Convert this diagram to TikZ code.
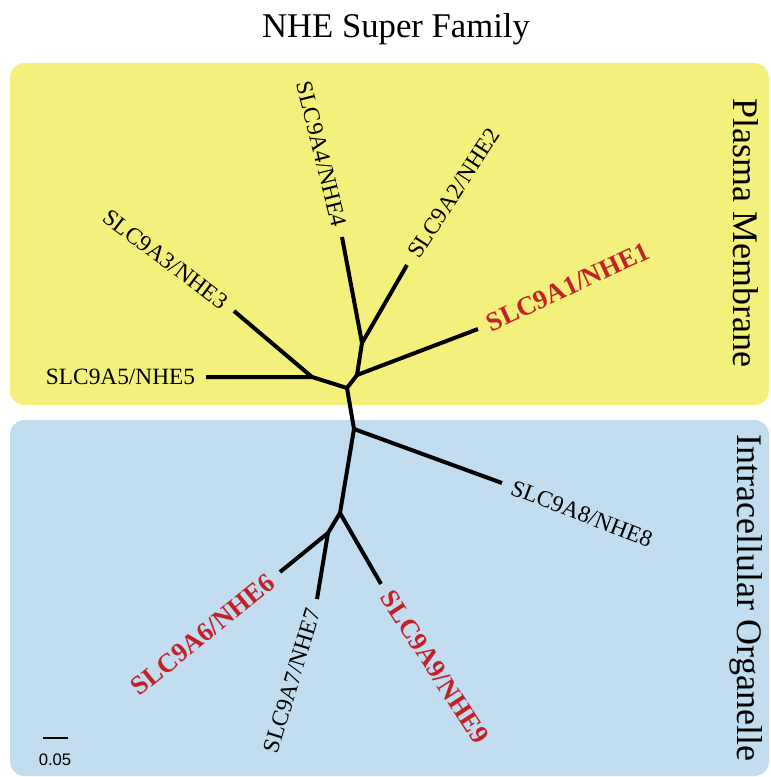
\documentclass[tikz,border=0pt]{standalone}
\usepackage{fontspec}
\setmainfont{Liberation Serif}
\setsansfont{Liberation Sans}
\usetikzlibrary{positioning}
\definecolor{pmyellow}{RGB}{243,241,123}
\definecolor{orgblue}{RGB}{193,221,239}
\definecolor{hlred}{RGB}{196,32,40}

\begin{document}
\begin{tikzpicture}[x=0.75pt,y=-0.75pt,
    branch/.style={line width=3pt},
    gene/.style={font=\fontsize{17.5}{20}\selectfont, inner ysep=2pt, inner xsep=8pt},
    hot/.style={gene, font=\fontsize{20}{23}\selectfont\bfseries, text=hlred},
    side/.style={font=\fontsize{27}{30}\selectfont, rotate=-90}]
  \useasboundingbox (0,0) rectangle (770,777);

  % compartments
  \fill[pmyellow, rounded corners=11pt] (10,63) rectangle (769,405);
  \fill[orgblue, rounded corners=11pt] (10,420) rectangle (769,776);
  \node (title) at (396,29) {\fontsize{26}{30}\selectfont NHE Super Family};
  \node[side] (pm) at (746,233) {Plasma Membrane};
  \node[side] (io) at (746,598) {Intracellular Organelle};

  % inner nodes of the tree
  \coordinate (a) at (347,388);
  \coordinate (p5) at (312,377);
  \coordinate (b) at (357,375);
  \coordinate (c) at (362,343);
  \coordinate (d) at (354,429);
  \coordinate (e) at (340,513);
  \coordinate (f) at (328,533);

  % leaves
  \coordinate (t5) at (206,377);
  \coordinate (t3) at (234,311);
  \coordinate (t1) at (478,329);
  \coordinate (t4) at (342,237);
  \coordinate (t2) at (407,265);
  \coordinate (t8) at (502,483);
  \coordinate (t6) at (280,572);
  \coordinate (t7) at (317,599);
  \coordinate (t9) at (381,584);

  \draw[branch] (t5) -- (p5) -- (a) -- (b) -- (c) -- (t4);
  \draw[branch] (t3) -- (p5);
  \draw[branch] (b) -- (t1);
  \draw[branch] (c) -- (t2);
  \draw[branch] (a) -- (d) -- (e) -- (f) -- (t6);
  \draw[branch] (d) -- (t8);
  \draw[branch] (f) -- (t7);
  \draw[branch] (e) -- (t9);

  % labels
  \node[gene, anchor=east] (n5) at (t5) {SLC9A5/NHE5};
  \node[gene, anchor=east, rotate=-37] (n3) at (t3) {SLC9A3/NHE3};
  \node[gene, anchor=east, rotate=-76] (n4) at (t4) {SLC9A4/NHE4};
  \node[gene, anchor=west, rotate=57] (n2) at (t2) {SLC9A2/NHE2};
  \node[hot, anchor=west, rotate=25] (n1) at (t1) {SLC9A1/NHE1};
  \node[gene, anchor=west, rotate=-21] (n8) at (t8) {SLC9A8/NHE8};
  \node[hot, anchor=east, rotate=39] (n6) at (t6) {SLC9A6/NHE6};
  \node[gene, anchor=east, rotate=73] (n7) at (t7) {SLC9A7/NHE7};
  \node[hot, anchor=west, rotate=-57] (n9) at (t9) {SLC9A9/NHE9};

  % scale bar
  \coordinate (s1) at (43,738);
  \coordinate (s2) at (68,738);
  \draw[line width=1pt] (s1) -- (s2);
  \node[font=\sffamily\fontsize{12.5}{14}\selectfont] (sl) at (55,760) {0.05};
\end{tikzpicture}
\end{document}
